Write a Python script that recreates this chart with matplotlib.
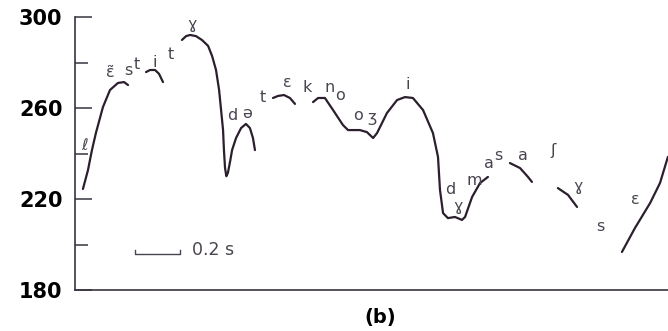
import matplotlib
matplotlib.use("Agg")
import matplotlib.pyplot as plt
from matplotlib.ticker import FixedLocator

# Pitch contour segments: time (s) and F0 (Hz)
seg1_t = [0.036, 0.059, 0.077, 0.095, 0.127, 0.159, 0.195, 0.223, 0.241]
seg1_f = [224.4, 232.7, 241.5, 249.0, 260.4, 267.9, 271.0, 271.4, 270.1]

seg2_t = [0.323, 0.341, 0.364, 0.382, 0.400]
seg2_f = [275.8, 276.7, 276.7, 275.0, 271.4]

seg3_t = [0.486, 0.505, 0.523, 0.550, 0.577, 0.605, 0.623, 0.641, 0.655, 0.664,
          0.673, 0.677, 0.682, 0.688, 0.695, 0.705, 0.714, 0.732, 0.755, 0.777,
          0.795, 0.809, 0.818]
seg3_f = [289.9, 291.6, 292.1, 291.6, 289.9, 287.3, 282.9, 276.7, 267.9, 259.1,
          250.3, 241.5, 233.6, 230.0, 231.5, 236.5, 241.5, 246.8, 251.2, 253.0,
          251.2, 246.8, 241.5]

seg4_t = [0.900, 0.923, 0.950, 0.977, 1.000]
seg4_f = [264.4, 265.3, 265.7, 264.4, 261.8]

seg5_t = [1.082, 1.105, 1.136, 1.173, 1.218, 1.241, 1.295, 1.327, 1.355, 1.373,
          1.418, 1.464, 1.500, 1.536, 1.582, 1.627, 1.650, 1.659, 1.673, 1.695,
          1.727, 1.759, 1.773, 1.805, 1.841, 1.877]
seg5_f = [262.6, 264.4, 264.4, 259.1, 252.5, 250.3, 250.3, 249.4, 246.8, 249.0,
          257.8, 263.5, 264.8, 264.4, 259.1, 249.0, 238.5, 224.0, 213.8, 211.6,
          212.1, 210.8, 212.1, 220.9, 227.0, 229.7]

seg6_t = [1.977, 2.023, 2.059, 2.077]
seg6_f = [235.8, 233.6, 229.7, 227.5]

seg7_t = [2.195, 2.241, 2.282]
seg7_f = [224.8, 221.8, 216.5]

seg8_t = [2.486, 2.545, 2.614, 2.659, 2.695]
seg8_f = [196.7, 207.2, 218.2, 227.0, 238.5]

segments = [(seg1_t, seg1_f), (seg2_t, seg2_f), (seg3_t, seg3_f), (seg4_t, seg4_f),
            (seg5_t, seg5_f), (seg6_t, seg6_f), (seg7_t, seg7_f), (seg8_t, seg8_f)]

# Phonetic labels
label_text = ["ℓ", "ɛ̃", "s", "t", "i", "t", "ɣ", "d", "ə", "t", "ɛ", "k", "n", "o",
              "o", "ʒ", "i", "d", "ɣ", "m", "a", "s", "a", "ʃ", "ɣ", "s", "ɛ"]
label_t = [0.045, 0.159, 0.241, 0.282, 0.364, 0.436, 0.532, 0.714, 0.782, 0.855,
           0.964, 1.055, 1.159, 1.205, 1.286, 1.350, 1.514, 1.705, 1.741, 1.814,
           1.882, 1.925, 2.036, 2.173, 2.286, 2.386, 2.545]
label_f = [243.7, 275.8, 276.7, 279.3, 279.8, 283.3, 296.5, 256.9, 257.8, 264.4,
           271.0, 269.2, 268.8, 265.3, 256.5, 256.0, 270.5, 224.0, 216.5, 228.3,
           235.6, 239.0, 239.3, 241.5, 225.7, 207.7, 219.6]

major_ticks = [180, 220, 260, 300]
minor_ticks = [200, 240, 280]

scale_t0, scale_t1, scale_f = 0.273, 0.477, 196.0
scale_label = "0.2 s"
panel_label = "(b)"

ink = "#2b1f2e"
label_ink = "#4a4450"

fig = plt.figure(figsize=(6.68, 3.31), dpi=100)
ax = fig.add_axes([75 / 668, 1 - 290 / 331, 1 - 75 / 668, (290 - 17) / 331])

for t, f in segments:
    ax.plot(t, f, color=ink, lw=1.6, solid_capstyle="round", solid_joinstyle="round")

for s, t, f in zip(label_text, label_t, label_f):
    ax.text(t, f, s, color=label_ink, fontsize=11.5, ha="center", va="center")

# scale bar
ax.plot([scale_t0, scale_t0, scale_t1, scale_t1],
        [scale_f + 1.6, scale_f, scale_f, scale_f + 1.6], color=label_ink, lw=1.0)
ax.text(scale_t1 + 0.055, scale_f + 1.5, scale_label, color=label_ink, fontsize=12.5,
        ha="left", va="center")

ax.set_xlim(0, (668 - 75) / 220)
ax.set_ylim(180, 300)

for side in ["top", "right"]:
    ax.spines[side].set_visible(False)
for side in ["left", "bottom"]:
    ax.spines[side].set_color("#3a3340")
    ax.spines[side].set_linewidth(1.2)

ax.set_xticks([])
ax.yaxis.set_major_locator(FixedLocator(major_ticks))
ax.yaxis.set_minor_locator(FixedLocator(minor_ticks))
ax.tick_params(axis="y", which="major", direction="in", length=12, width=1.1,
               color="#3a3340", pad=9)
ax.tick_params(axis="y", which="minor", direction="in", length=9.5, width=1.1,
               color="#3a3340")
for lbl in ax.get_yticklabels():
    lbl.set_fontsize(15)
    lbl.set_fontweight("bold")
    lbl.set_color("black")

fig.text(380 / 668, 1 - 318 / 331, panel_label, fontsize=14, fontweight="bold",
         ha="center", va="center", color="black")

fig.savefig("out.png", dpi=100)
